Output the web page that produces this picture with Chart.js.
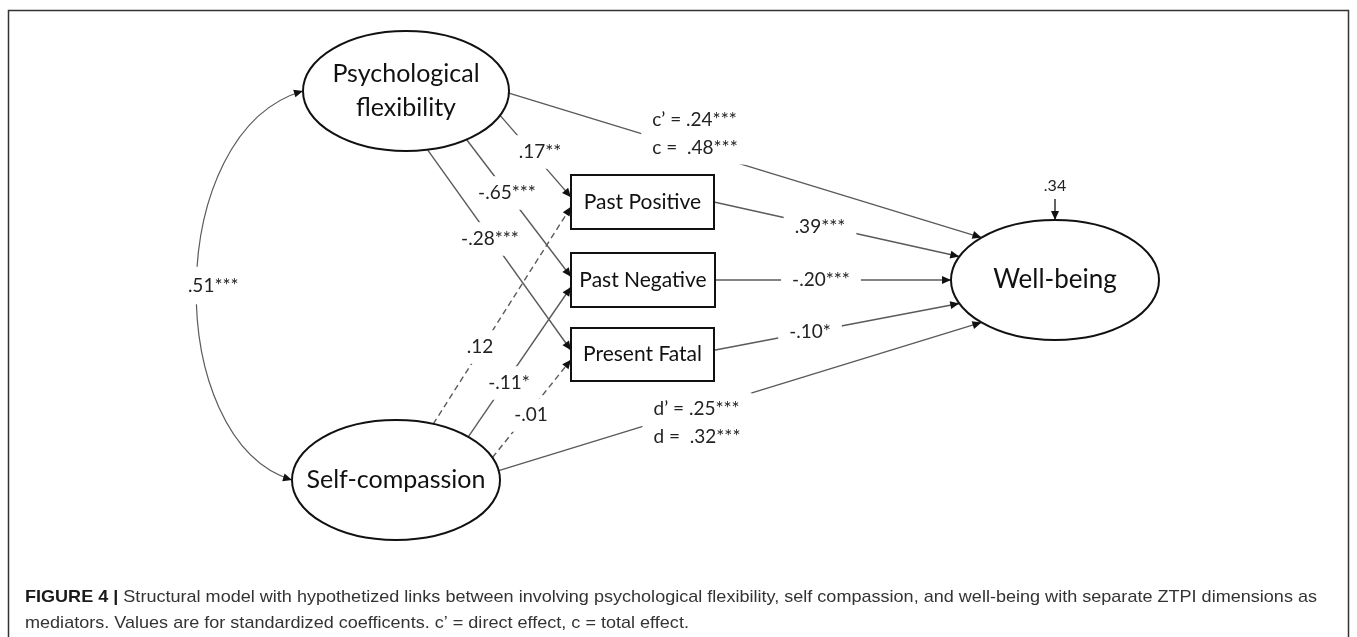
<!DOCTYPE html>
<html>
<head>
<meta charset="utf-8">
<script src="https://cdn.jsdelivr.net/npm/chart.js@4.4.1/dist/chart.umd.min.js"></script>
<style>
  html, body { margin: 0; padding: 0; background: #fff; }
  #wrap { width: 1357px; height: 637px; position: relative; }
</style>
</head>
<body>
<div id="wrap"><canvas id="chartModel"></canvas></div>
<script>
// Model variables and standardized path coefficients
const nodeNames = ["Psychological\nflexibility", "Self-compassion", "Past Positive", "Past Negative", "Present Fatal", "Well-being"];
const pathFrom = [0, 0, 0, 1, 1, 1, 0, 1, 2, 3, 4];
const pathTo = [2, 3, 4, 2, 3, 4, 5, 5, 5, 5, 5];
const pathLabels = [".17**", "-.65***", "-.28***", ".12", "-.11*", "-.01",
  "c\u2019 = .24***\nc =  .48***", "d\u2019 = .25***\nd =  .32***", ".39***", "-.20***", "-.10*"];
const pathSignificant = [true, true, true, false, true, false, true, true, true, true, true];
const covLabel = ".51***";
const residualLabel = ".34";
const captionBold = "FIGURE 4 | ";
const captionLines = [
  "Structural model with hypothetized links between involving psychological flexibility, self compassion, and well-being with separate ZTPI dimensions as",
  "mediators. Values are for standardized coefficents. c\u2019 = direct effect, c = total effect."
];

// Layout, in scale units (x 0..1357, y 0..637 from the top)
const nodeLayout = [
  { shape: "ellipse", cx: 406, cy: 91, rx: 103, ry: 60, font: 25 },
  { shape: "ellipse", cx: 396, cy: 480, rx: 104, ry: 60, font: 25 },
  { shape: "box", x: 571, y: 175, w: 143, h: 54, font: 21 },
  { shape: "box", x: 571, y: 253, w: 144, h: 54, font: 21 },
  { shape: "box", x: 571, y: 328, w: 143, h: 53, font: 21 },
  { shape: "ellipse", cx: 1055, cy: 280, rx: 104, ry: 60, font: 26 }
];
// ports: angle (deg) on ellipses, fraction of height on boxes
const pathPorts = [
  [24, 0.41], [54, 0.44], [78, 0.42],
  [-69, 0.59], [-46, 0.63], [-22, 0.60],
  [2, -135], [-9, 135],
  [0.5, -157], [0.5, 180], [0.42, 157]
];
const labelPos = [[540, 152], [507, 193], [490, 239], [480, 347], [509, 383], [531, 415],
  [695, 134], [697, 423], [820, 227], [821, 280], [810, 332]];

function portPoint(i, a, isSource) {
  const n = nodeLayout[i];
  if (n.shape === "ellipse") {
    const r = a * Math.PI / 180;
    return { x: n.cx + n.rx * Math.cos(r), y: n.cy + n.ry * Math.sin(r) };
  }
  return { x: isSource ? n.x + n.w : n.x, y: n.y + n.h * a };
}

const pathPoints = pathFrom.map((f, i) => [
  portPoint(f, pathPorts[i][0], true),
  portPoint(pathTo[i], pathPorts[i][1], false)
]);

const wb = nodeLayout[5];
const residualPoints = [{ x: wb.cx, y: wb.cy - wb.ry - 21 }, { x: wb.cx, y: wb.cy - wb.ry }];
const covStart = portPoint(0, 180, true);
const covEnd = portPoint(1, 180, false);

const lineColor = "#5a5a5a";
const inkColor = "#111";
const labelFont = "'Lato', 'Open Sans', sans-serif";

const datasets = pathPoints.map((pts, i) => ({
  label: pathLabels[i],
  data: pts,
  showLine: true,
  borderColor: lineColor,
  borderWidth: 1.4,
  borderDash: pathSignificant[i] ? [] : [6, 4],
  pointRadius: 0,
  tension: 0
}));
datasets.push({
  label: residualLabel,
  data: residualPoints,
  showLine: true,
  borderColor: inkColor,
  borderWidth: 1.3,
  pointRadius: 0
});

function arrowHead(ctx, from, to) {
  const ang = Math.atan2(to.y - from.y, to.x - from.x);
  const len = 9, hw = 4;
  ctx.save();
  ctx.translate(to.x, to.y);
  ctx.rotate(ang);
  ctx.beginPath();
  ctx.moveTo(0, 0);
  ctx.lineTo(-len, -hw);
  ctx.lineTo(-len, hw);
  ctx.closePath();
  ctx.fillStyle = inkColor;
  ctx.fill();
  ctx.restore();
}

function drawLabel(ctx, text, cx, cy, size, padX, padY) {
  const lines = text.split("\n");
  const lh = size * 1.45;
  ctx.font = size + "px " + labelFont;
  const w = Math.max(...lines.map(l => ctx.measureText(l).width));
  const h = lines.length * lh;
  ctx.fillStyle = "#fff";
  ctx.fillRect(cx - w / 2 - padX, cy - h / 2 - padY, w + padX * 2, h + padY * 2);
  ctx.fillStyle = "#222";
  ctx.textAlign = lines.length > 1 ? "left" : "center";
  ctx.textBaseline = "middle";
  lines.forEach((l, k) => {
    const x = lines.length > 1 ? cx - w / 2 : cx;
    ctx.fillText(l, x, cy - h / 2 + lh * (k + 0.5));
  });
}

const diagramPlugin = {
  id: "diagram",
  beforeDatasetsDraw(chart) {
    const ctx = chart.ctx;
    ctx.save();
    ctx.strokeStyle = "#333";
    ctx.lineWidth = 1.5;
    ctx.strokeRect(8.5, 10.5, 1340, 700);
    ctx.restore();
  },
  afterDatasetsDraw(chart) {
    const ctx = chart.ctx;
    const sx = chart.scales.x, sy = chart.scales.y;
    const P = p => ({ x: sx.getPixelForValue(p.x), y: sy.getPixelForValue(p.y) });
    ctx.save();

    // covariance curve
    const a = P(covStart), b = P(covEnd);
    const c1 = P({ x: covStart.x - 140, y: covStart.y + 40 });
    const c2 = P({ x: covEnd.x - 130, y: covEnd.y - 40 });
    ctx.beginPath();
    ctx.moveTo(a.x, a.y);
    ctx.bezierCurveTo(c1.x, c1.y, c2.x, c2.y, b.x, b.y);
    ctx.strokeStyle = lineColor;
    ctx.lineWidth = 1.2;
    ctx.stroke();
    arrowHead(ctx, c1, a);
    arrowHead(ctx, c2, b);
    const mid = { x: (a.x + 3 * c1.x + 3 * c2.x + b.x) / 8, y: (a.y + 3 * c1.y + 3 * c2.y + b.y) / 8 };
    drawLabel(ctx, covLabel, mid.x + 17, mid.y, 19, 4, 5);

    // path arrows and coefficient labels
    pathPoints.forEach((pts, i) => {
      arrowHead(ctx, P(pts[0]), P(pts[1]));
      const lp = P({ x: labelPos[i][0], y: labelPos[i][1] });
      const vertical = Math.abs(pts[1].x - pts[0].x) < Math.abs(pts[1].y - pts[0].y) * 1.2;
      drawLabel(ctx, pathLabels[i], lp.x, lp.y, 19, vertical ? 4 : 11, vertical ? 3 : 3);
    });

    // residual
    const r0 = P(residualPoints[0]), r1 = P(residualPoints[1]);
    arrowHead(ctx, r0, r1);
    ctx.font = "16px " + labelFont;
    ctx.fillStyle = "#222";
    ctx.textAlign = "center";
    ctx.textBaseline = "bottom";
    ctx.fillText(residualLabel, r0.x, r0.y - 5);

    // nodes
    nodeLayout.forEach((n, i) => {
      ctx.strokeStyle = inkColor;
      ctx.lineWidth = 2;
      let cx, cy;
      if (n.shape === "ellipse") {
        const c = P({ x: n.cx, y: n.cy });
        const rx = sx.getPixelForValue(n.cx + n.rx) - c.x;
        const ry = sy.getPixelForValue(n.cy + n.ry) - c.y;
        ctx.beginPath();
        ctx.ellipse(c.x, c.y, rx, ry, 0, 0, Math.PI * 2);
        ctx.stroke();
        cx = c.x; cy = c.y;
      } else {
        const tl = P({ x: n.x, y: n.y }), br = P({ x: n.x + n.w, y: n.y + n.h });
        ctx.strokeRect(tl.x, tl.y, br.x - tl.x, br.y - tl.y);
        cx = (tl.x + br.x) / 2; cy = (tl.y + br.y) / 2;
      }
      const lines = nodeNames[i].split("\n");
      ctx.font = n.font + "px " + labelFont;
      ctx.fillStyle = inkColor;
      ctx.textAlign = "center";
      ctx.textBaseline = "middle";
      const lh = n.font * 1.35;
      lines.forEach((l, k) => {
        ctx.fillText(l, cx, cy + (k - (lines.length - 1) / 2) * lh);
      });
    });

    // caption
    const fam = "'Liberation Sans Narrow', 'Liberation Sans', Arial, sans-serif";
    const fs = 17;
    ctx.font = "bold " + fs + "px " + fam;
    const wb0 = ctx.measureText(captionBold).width;
    ctx.font = fs + "px " + fam;
    const w1 = wb0 + ctx.measureText(captionLines[0]).width;
    const scaleX = 1292 / w1;
    ctx.textAlign = "left";
    ctx.textBaseline = "alphabetic";
    ctx.save();
    ctx.translate(25, 602);
    ctx.scale(scaleX, 1);
    ctx.font = "bold " + fs + "px " + fam;
    ctx.fillStyle = "#1a1a1a";
    ctx.fillText(captionBold, 0, 0);
    ctx.font = fs + "px " + fam;
    ctx.fillStyle = "#333";
    ctx.fillText(captionLines[0], wb0, 0);
    ctx.restore();
    ctx.save();
    ctx.translate(25, 628);
    ctx.scale(scaleX, 1);
    ctx.font = fs + "px " + fam;
    ctx.fillStyle = "#333";
    ctx.fillText(captionLines[1], 0, 0);
    ctx.restore();

    ctx.restore();
  }
};

new Chart(document.getElementById("chartModel"), {
  type: "scatter",
  data: { datasets },
  options: {
    responsive: true,
    maintainAspectRatio: false,
    animation: false,
    layout: { padding: 0 },
    scales: {
      x: { type: "linear", min: 0, max: 1357, display: false },
      y: { type: "linear", min: 0, max: 637, reverse: true, display: false }
    },
    plugins: { legend: { display: false }, tooltip: { enabled: false } }
  },
  plugins: [diagramPlugin]
});
</script>
</body>
</html>
